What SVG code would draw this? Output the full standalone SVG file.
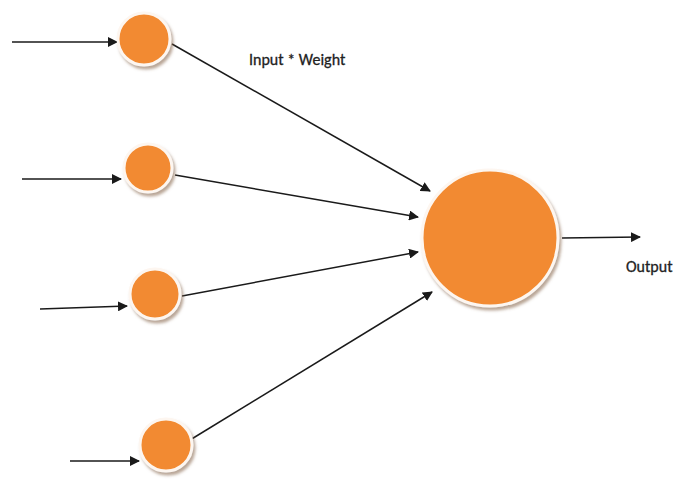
<svg xmlns="http://www.w3.org/2000/svg" width="676" height="481" viewBox="0 0 676 481">
<defs>
<marker id="ah" viewBox="0 0 10 10" refX="9" refY="5" markerWidth="10" markerHeight="10" markerUnits="userSpaceOnUse" orient="auto">
<path d="M0,0 L10,5 L0,10 z" fill="#1a1a1a"/>
</marker>
<filter id="sh" x="-20%" y="-20%" width="150%" height="150%">
<feGaussianBlur in="SourceAlpha" stdDeviation="1.5"/>
<feOffset dx="2" dy="3" result="b"/>
<feFlood flood-color="#8a6a50" flood-opacity="0.6"/>
<feComposite in2="b" operator="in"/>
<feMerge><feMergeNode/><feMergeNode in="SourceGraphic"/></feMerge>
</filter>
</defs>
<style>
.node{fill:#F28A30;stroke:#fdf6f0;stroke-width:3;filter:url(#sh)}
.edge{stroke:#1a1a1a;stroke-width:1.5;fill:none;marker-end:url(#ah)}
.lbl{font-family:Carlito,"Liberation Sans",Arial,sans-serif;font-size:16px;fill:#222;stroke:#222;stroke-width:0.3}
</style>
<rect width="676" height="481" fill="#ffffff"/>
<g id="connectors">
<line class="edge" x1="12" y1="42" x2="117" y2="42"/>
<line class="edge" x1="22" y1="179" x2="121" y2="179"/>
<line class="edge" x1="40" y1="309" x2="127" y2="306"/>
<line class="edge" x1="70" y1="461" x2="139" y2="461"/>
<line class="edge" x1="172" y1="44" x2="430" y2="191"/>
<line class="edge" x1="175" y1="175" x2="418" y2="217"/>
<line class="edge" x1="182" y1="296" x2="418" y2="252"/>
<line class="edge" x1="190" y1="440" x2="432" y2="292"/>
<line class="edge" x1="562" y1="238" x2="640" y2="237"/>
</g>
<g id="in1"><circle class="node" cx="144" cy="39" r="26"/></g>
<g id="in2"><circle class="node" cx="148" cy="168" r="24"/></g>
<g id="in3"><circle class="node" cx="155" cy="294" r="25"/></g>
<g id="in4"><circle class="node" cx="166" cy="445" r="26"/></g>
<g id="out"><circle class="node" cx="490" cy="238" r="68"/></g>
<text class="lbl" x="249" y="65">Input * Weight</text>
<text class="lbl" x="626" y="272">Output</text>
</svg>
